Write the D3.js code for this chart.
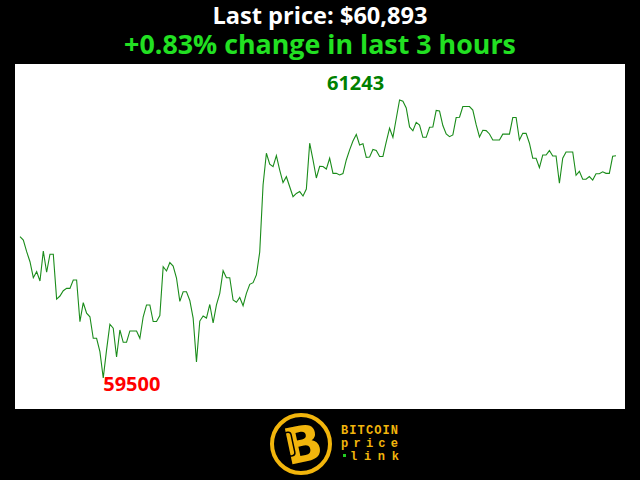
<!DOCTYPE html>
<html><head><meta charset="utf-8">
<script src="https://cdn.jsdelivr.net/npm/d3@7"></script>
<style>html,body{margin:0;padding:0;background:#000;}svg{display:block;}</style>
</head><body>
<svg id="chart" width="640" height="480"></svg>
<script>
// ---- data (one price per minute over last 3 hours) ----
const prices = [
60386,60365,60292,60229,60129,60167,60108,60296,60163,60276,
60276,59995,60014,60047,60062,60062,60114,60114,59853,59972,
59906,59884,59749,59749,59665,59500,59676,59837,59812,59632,
59801,59724,59724,59795,59795,59795,59749,59884,59958,59958,
59854,59854,59892,60198,60171,60224,60202,60127,59980,60041,
60041,59986,59876,59600,59857,59889,59876,59961,59845,59958,
60031,60173,60129,60129,59989,59975,60005,59953,60031,60087,
60098,60146,60290,60710,60909,60841,60825,60894,60804,60725,
60762,60699,60637,60657,60669,60641,60685,60972,60867,60754,
60827,60826,60810,60878,60783,60783,60773,60782,60867,60930,
60986,61027,60961,60969,60883,60886,60933,60926,60889,60889,
60980,61066,61009,61127,61243,61235,61193,61074,61050,61103,
61086,61009,61009,61072,61074,61178,61174,61083,61030,61013,
61024,61133,61135,61202,61202,61202,61180,61088,61011,61053,
61051,61030,60992,60992,60992,61029,61029,61029,61133,61133,
60992,61034,61034,60972,60878,60878,60819,60898,60898,60926,
60892,60892,60721,60878,60917,60917,60917,60771,60796,60746,
60746,60763,60741,60781,60781,60793,60783,60783,60890,60893
];
const titleLine1 = "Last price: $60,893";
const titleLine2 = "+0.83% change in last 3 hours";
const logoLines = ["BITCOIN", "price", "link"];

// ---- drawing ----
const svg = d3.select("#chart");
svg.append("rect").attr("width",640).attr("height",480).attr("fill","#000");

svg.append("text").attr("x",320).attr("y",24).attr("text-anchor","middle")
  .attr("font-family","Open Sans").attr("font-weight","bold").attr("font-size",23.6)
  .attr("fill","#fff").text(titleLine1);
svg.append("text").attr("x",320).attr("y",53.5).attr("text-anchor","middle")
  .attr("font-family","Open Sans").attr("font-weight","bold").attr("font-size",26.8)
  .attr("fill","#22e022").text(titleLine2);

svg.append("rect").attr("x",15).attr("y",64).attr("width",610).attr("height",345).attr("fill","#fff");

const minV = d3.min(prices), maxV = d3.max(prices);
const x = d3.scaleLinear().domain([0, prices.length-1]).range([20, 616]);
const y = d3.scaleLinear().domain([minV, maxV]).range([378, 100]);

svg.append("path").datum(prices)
  .attr("d", d3.line().x((d,i)=>x(i)).y(d=>y(d)))
  .attr("fill","none").attr("stroke","#1a8c1a").attr("stroke-width",1.1);

const iMin = prices.indexOf(minV), iMax = prices.indexOf(maxV);
svg.append("text").attr("x", x(iMin)).attr("y", y(minV)+13)
  .attr("font-family","Open Sans").attr("font-weight","bold").attr("font-size",20)
  .attr("fill","#ff0000").text(minV);
svg.append("text").attr("x", x(iMax)-44).attr("y", y(maxV)-10).attr("text-anchor","middle")
  .attr("font-family","Open Sans").attr("font-weight","bold").attr("font-size",20)
  .attr("fill","#008000").text(maxV);

// ---- logo ----
const gold = "#f2b50c";
const logo = svg.append("g");
logo.append("circle").attr("cx",301).attr("cy",444).attr("r",29).attr("fill","#000")
  .attr("stroke",gold).attr("stroke-width",4);
logo.append("text").attr("x",303).attr("y",462).attr("text-anchor","middle")
  .attr("font-family","DejaVu Sans").attr("font-weight","bold").attr("font-size",50)
  .attr("fill",gold).attr("transform","rotate(-12,301,444)").text("B");
logo.append("rect").attr("x",286).attr("y",432).attr("width",7).attr("height",24).attr("rx",3)
  .attr("fill","none").attr("stroke","#000").attr("stroke-width",1.5)
  .attr("transform","rotate(-12,290,444)");
const ly = [434, 447, 460];
logoLines.forEach((t,k)=>{
  const tx = k===2 ? 350 : 341;
  const tl = k===2 ? 49 : 57;
  logo.append("text").attr("x",tx).attr("y",ly[k])
    .attr("font-family","Liberation Mono").attr("font-weight","bold").attr("font-size",12)
    .attr("textLength",tl).attr("lengthAdjust","spacing")
    .attr("fill",gold).text(t);
});
logo.append("rect").attr("x",343).attr("y",454).attr("width",3).attr("height",3).attr("fill","#22cc22");
</script>
</body></html>
